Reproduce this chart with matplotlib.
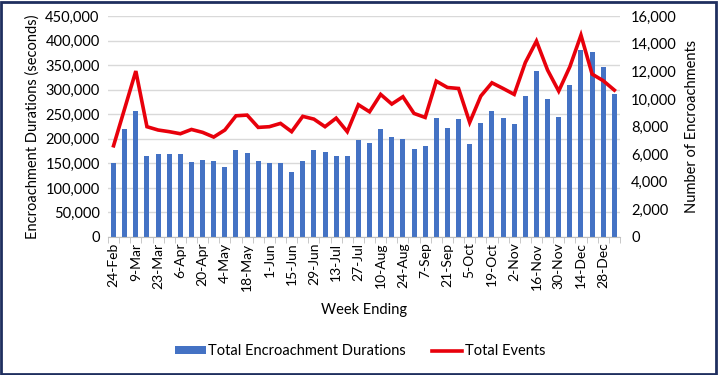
import numpy as np
import matplotlib
matplotlib.use("Agg")
import matplotlib.pyplot as plt
from matplotlib.patches import Rectangle
from matplotlib.ticker import FuncFormatter, MultipleLocator

plt.rcParams['font.family'] = ['Lato', 'DejaVu Sans']

# weekly categories (week ending), 24-Feb .. 4-Jan
weeks = ['24-Feb', '2-Mar', '9-Mar', '16-Mar', '23-Mar', '30-Mar', '6-Apr', '13-Apr',
         '20-Apr', '27-Apr', '4-May', '11-May', '18-May', '25-May', '1-Jun', '8-Jun',
         '15-Jun', '22-Jun', '29-Jun', '6-Jul', '13-Jul', '20-Jul', '27-Jul', '3-Aug',
         '10-Aug', '17-Aug', '24-Aug', '31-Aug', '7-Sep', '14-Sep', '21-Sep', '28-Sep',
         '5-Oct', '12-Oct', '19-Oct', '26-Oct', '2-Nov', '9-Nov', '16-Nov', '23-Nov',
         '30-Nov', '7-Dec', '14-Dec', '21-Dec', '28-Dec', '4-Jan']

durations = [150000, 220500, 256500, 165000, 170000, 169000, 169000, 152700,
             156800, 154000, 142500, 177000, 171000, 155000, 151000, 150000,
             132000, 154000, 177000, 173000, 165600, 165600, 198000, 190700,
             220600, 204000, 200000, 180000, 184600, 243000, 222600, 240000,
             190000, 232000, 256600, 241600, 230800, 287800, 338000, 281000,
             244000, 310000, 380800, 376000, 346000, 290500]

events = [6610, 9310, 12020, 7990, 7750, 7630, 7480, 7790,
          7580, 7240, 7750, 8780, 8830, 7940, 7990, 8230,
          7630, 8740, 8540, 7990, 8610, 7630, 9580, 9070,
          10330, 9630, 10160, 8950, 8660, 11290, 10830, 10760,
          8300, 10210, 11170, 10760, 10330, 12640, 14190, 12090,
          10570, 12330, 14620, 11800, 11320, 10640]

fig = plt.figure(figsize=(7.2, 3.75), dpi=100)
ax = fig.add_axes([0.150, 0.368, 0.711, 0.589])
ax2 = ax.twinx()

x = np.arange(len(weeks))
ax.bar(x, durations, width=0.45, color='#4472C4', label='Total Encroachment Durations', zorder=2)
ax2.plot(x, events, color='#E8000B', lw=2.6, label='Total Events', solid_joinstyle='miter')

ax.set_xlim(-0.5, len(weeks) - 0.5)
ax.set_ylim(0, 450000)
ax2.set_ylim(0, 16000)
ax.yaxis.set_major_locator(MultipleLocator(50000))
ax2.yaxis.set_major_locator(MultipleLocator(2000))
ax.yaxis.set_major_formatter(FuncFormatter(lambda v, p: f'{v:,.0f}'))
ax2.yaxis.set_major_formatter(FuncFormatter(lambda v, p: f'{v:,.0f}'))
ax.grid(axis='y', color='#D9D9D9', lw=1, zorder=0)
ax.set_axisbelow(True)

ax.set_xticks(x[::2])
ax.set_xticklabels(weeks[::2], rotation=90, fontsize=10)
ax.set_xticks(np.arange(-0.5, len(weeks), 1), minor=True)
ax.tick_params(axis='x', which='major', length=0, pad=4)
ax.tick_params(axis='x', which='minor', length=4, color='#BFBFBF')
ax.tick_params(axis='y', length=0, labelsize=10.5, pad=6)
ax2.tick_params(axis='y', length=0, labelsize=10.5, pad=8)

for a in (ax, ax2):
    for s in ['top', 'left', 'right']:
        a.spines[s].set_visible(False)
ax.spines['bottom'].set_color('#BFBFBF')
ax2.spines['bottom'].set_visible(False)

ax.set_ylabel('Encroachment Durations (seconds)', fontsize=10.5, labelpad=4)
ax2.set_ylabel('Number of Encroachments', fontsize=10.5, labelpad=6)
ax.set_xlabel('Week Ending', fontsize=10.5, labelpad=9)

h1, l1 = ax.get_legend_handles_labels()
h2, l2 = ax2.get_legend_handles_labels()
fig.legend(h1 + h2, l1 + l2, loc='center', bbox_to_anchor=(0.5, 0.063), ncol=2,
           frameon=False, fontsize=10.5, handlelength=2.1, handleheight=0.45,
           handletextpad=0.15, columnspacing=1.8)

fig.patches.append(Rectangle((0.002, 0.004), 0.993, 0.992, transform=fig.transFigure,
                             fill=False, edgecolor='#1F2F5F', lw=2))

fig.savefig('out.png', dpi=100)
